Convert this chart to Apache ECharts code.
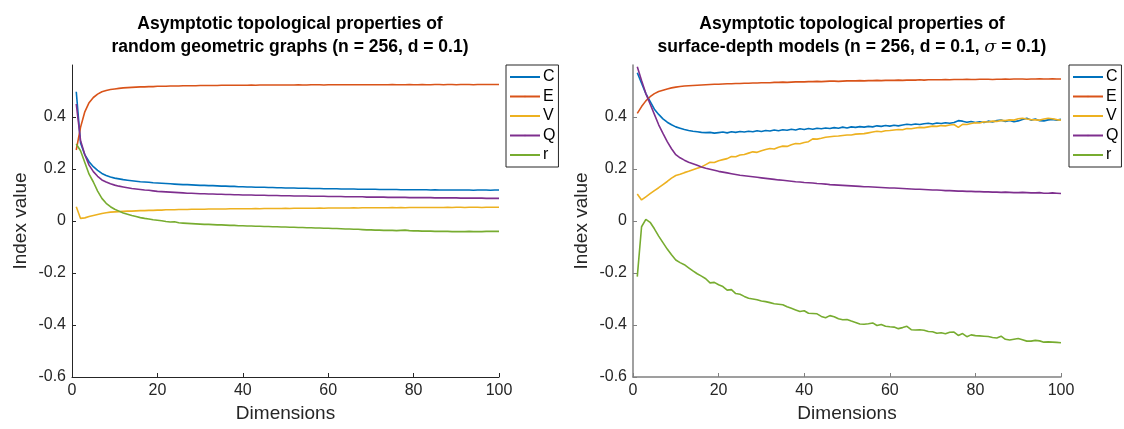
<!DOCTYPE html>
<html>
<head>
<meta charset="utf-8">
<script src="https://cdn.jsdelivr.net/npm/echarts@6/dist/echarts.min.js"></script>
<style>
  html, body { margin: 0; padding: 0; background: #fff; }
  #chart { width: 1124px; height: 429px; }
</style>
</head>
<body>
<div id="chart"></div>
<script>
// dimensions 1..100
const dims = [];
for (let d = 1; d <= 100; d++) dims.push(d);

const names = ['C', 'E', 'V', 'Q', 'r'];
const colors = ['#0072BD', '#D95319', '#EDB120', '#7E2F8E', '#77AC30'];
const yTicks = [-0.6, -0.4, -0.2, 0, 0.2, 0.4];

// random geometric graphs
const rggC = [0.497, 0.30, 0.255, 0.228, 0.209, 0.195, 0.183, 0.175, 0.169, 0.165,
  0.162, 0.159, 0.157, 0.155, 0.153, 0.151, 0.150, 0.149, 0.147, 0.146,
  0.145, 0.144, 0.143, 0.142, 0.141, 0.140, 0.140, 0.139, 0.138, 0.137,
  0.137, 0.136, 0.136, 0.135, 0.134, 0.134, 0.133, 0.133, 0.132, 0.132,
  0.131, 0.131, 0.130, 0.130, 0.130, 0.129, 0.129, 0.128, 0.128, 0.127,
  0.127, 0.127, 0.126, 0.126, 0.126, 0.125, 0.125, 0.125, 0.124, 0.124,
  0.124, 0.124, 0.123, 0.123, 0.123, 0.123, 0.122, 0.122, 0.122, 0.122,
  0.122, 0.121, 0.121, 0.121, 0.121, 0.121, 0.120, 0.120, 0.120, 0.120,
  0.120, 0.120, 0.120, 0.119, 0.120, 0.119, 0.119, 0.119, 0.119, 0.119,
  0.119, 0.119, 0.119, 0.118, 0.119, 0.119, 0.119, 0.118, 0.119, 0.119];
const rggE = [0.273, 0.36, 0.42, 0.455, 0.475, 0.488, 0.497, 0.502, 0.506, 0.508,
  0.510, 0.512, 0.513, 0.514, 0.515, 0.516, 0.516, 0.517, 0.517, 0.518,
  0.518, 0.518, 0.519, 0.519, 0.519, 0.520, 0.520, 0.520, 0.520, 0.521,
  0.521, 0.521, 0.521, 0.521, 0.522, 0.522, 0.522, 0.522, 0.522, 0.522,
  0.522, 0.523, 0.522, 0.523, 0.523, 0.523, 0.523, 0.523, 0.523, 0.523,
  0.523, 0.523, 0.524, 0.523, 0.523, 0.524, 0.524, 0.524, 0.523, 0.524,
  0.524, 0.524, 0.524, 0.524, 0.524, 0.524, 0.524, 0.524, 0.524, 0.524,
  0.524, 0.524, 0.524, 0.524, 0.525, 0.524, 0.524, 0.524, 0.525, 0.524,
  0.524, 0.525, 0.524, 0.524, 0.525, 0.525, 0.524, 0.525, 0.525, 0.524,
  0.525, 0.525, 0.525, 0.524, 0.525, 0.525, 0.525, 0.525, 0.525, 0.525];
const rggV = [0.055, 0.010, 0.012, 0.017, 0.021, 0.025, 0.029, 0.032, 0.034, 0.035,
  0.036, 0.037, 0.038, 0.038, 0.039, 0.040, 0.040, 0.041, 0.041, 0.042,
  0.042, 0.043, 0.043, 0.043, 0.044, 0.044, 0.044, 0.045, 0.045, 0.045,
  0.045, 0.046, 0.046, 0.046, 0.046, 0.046, 0.047, 0.047, 0.047, 0.047,
  0.047, 0.047, 0.048, 0.047, 0.048, 0.048, 0.048, 0.048, 0.048, 0.049,
  0.048, 0.049, 0.049, 0.049, 0.049, 0.049, 0.049, 0.050, 0.049, 0.050,
  0.050, 0.050, 0.050, 0.050, 0.050, 0.051, 0.050, 0.051, 0.051, 0.051,
  0.051, 0.051, 0.051, 0.051, 0.052, 0.051, 0.052, 0.051, 0.052, 0.052,
  0.052, 0.052, 0.052, 0.052, 0.052, 0.052, 0.052, 0.053, 0.052, 0.053,
  0.053, 0.052, 0.053, 0.053, 0.053, 0.052, 0.053, 0.053, 0.053, 0.053];
const rggQ = [0.45, 0.31, 0.255, 0.215, 0.19, 0.172, 0.158, 0.150, 0.143, 0.138,
  0.134, 0.131, 0.128, 0.125, 0.123, 0.121, 0.119, 0.118, 0.116, 0.114,
  0.113, 0.112, 0.111, 0.110, 0.109, 0.108, 0.107, 0.107, 0.106, 0.105,
  0.105, 0.104, 0.104, 0.103, 0.103, 0.102, 0.102, 0.101, 0.101, 0.100,
  0.100, 0.100, 0.099, 0.099, 0.099, 0.098, 0.098, 0.098, 0.097, 0.097,
  0.097, 0.096, 0.096, 0.096, 0.096, 0.095, 0.095, 0.095, 0.095, 0.094,
  0.094, 0.094, 0.094, 0.093, 0.093, 0.093, 0.093, 0.093, 0.092, 0.092,
  0.092, 0.092, 0.092, 0.091, 0.091, 0.091, 0.091, 0.091, 0.090, 0.090,
  0.090, 0.090, 0.090, 0.090, 0.089, 0.089, 0.089, 0.089, 0.089, 0.089,
  0.088, 0.088, 0.088, 0.088, 0.088, 0.088, 0.087, 0.087, 0.087, 0.087];
const rggR = [0.296, 0.27, 0.225, 0.18, 0.15, 0.115, 0.087, 0.068, 0.055, 0.045,
  0.038, 0.031, 0.026, 0.021, 0.017, 0.013, 0.010, 0.008, 0.005, 0.003,
  0.001, -0.002, -0.004, -0.003, -0.007, -0.008, -0.009, -0.010, -0.011, -0.012,
  -0.013, -0.013, -0.014, -0.015, -0.015, -0.016, -0.017, -0.017, -0.018, -0.018,
  -0.019, -0.019, -0.020, -0.020, -0.021, -0.021, -0.022, -0.022, -0.023, -0.023,
  -0.024, -0.024, -0.025, -0.025, -0.026, -0.026, -0.027, -0.027, -0.028, -0.028,
  -0.029, -0.029, -0.030, -0.031, -0.031, -0.032, -0.032, -0.033, -0.034, -0.034,
  -0.035, -0.035, -0.036, -0.036, -0.036, -0.037, -0.036, -0.035, -0.037, -0.038,
  -0.038, -0.039, -0.039, -0.039, -0.040, -0.040, -0.040, -0.040, -0.041, -0.041,
  -0.041, -0.041, -0.040, -0.041, -0.041, -0.041, -0.040, -0.040, -0.040, -0.040];

// surface-depth models
const sdmC = [0.57, 0.53, 0.49, 0.46, 0.43, 0.41, 0.393, 0.380, 0.370, 0.362,
  0.357, 0.352, 0.348, 0.345, 0.343, 0.341, 0.340, 0.341, 0.338, 0.340,
  0.342, 0.339, 0.343, 0.341, 0.344, 0.342, 0.345, 0.343, 0.347, 0.344,
  0.348, 0.346, 0.350, 0.347, 0.351, 0.349, 0.353, 0.350, 0.355, 0.352,
  0.356, 0.353, 0.357, 0.355, 0.358, 0.356, 0.359, 0.357, 0.361, 0.358,
  0.362, 0.360, 0.363, 0.361, 0.364, 0.362, 0.366, 0.364, 0.367, 0.365,
  0.368, 0.366, 0.369, 0.372, 0.370, 0.373, 0.371, 0.374, 0.376, 0.373,
  0.377, 0.375, 0.378, 0.376, 0.379, 0.386, 0.384, 0.380, 0.383, 0.379,
  0.382, 0.379, 0.384, 0.381, 0.386, 0.388, 0.383, 0.387, 0.382, 0.385,
  0.390, 0.395, 0.388, 0.392, 0.386, 0.385, 0.389, 0.391, 0.388, 0.391];
const sdmE = [0.414, 0.44, 0.462, 0.478, 0.490, 0.498, 0.503, 0.508, 0.512, 0.515,
  0.517, 0.519, 0.520, 0.521, 0.522, 0.523, 0.524, 0.525, 0.526, 0.526,
  0.527, 0.528, 0.528, 0.529, 0.529, 0.530, 0.530, 0.531, 0.531, 0.532,
  0.532, 0.532, 0.533, 0.533, 0.534, 0.533, 0.534, 0.535, 0.535, 0.535,
  0.536, 0.536, 0.537, 0.536, 0.537, 0.538, 0.538, 0.537, 0.538, 0.539,
  0.539, 0.539, 0.540, 0.539, 0.540, 0.540, 0.541, 0.540, 0.541, 0.541,
  0.541, 0.542, 0.541, 0.542, 0.542, 0.542, 0.543, 0.542, 0.543, 0.543,
  0.543, 0.543, 0.544, 0.543, 0.544, 0.544, 0.544, 0.545, 0.544, 0.544,
  0.545, 0.545, 0.545, 0.544, 0.545, 0.545, 0.546, 0.545, 0.546, 0.546,
  0.546, 0.545, 0.546, 0.546, 0.547, 0.546, 0.546, 0.547, 0.546, 0.546];
const sdmV = [0.104, 0.081, 0.093, 0.105, 0.117, 0.128, 0.140, 0.152, 0.165, 0.175,
  0.180, 0.186, 0.191, 0.197, 0.203, 0.208, 0.217, 0.226, 0.225, 0.232,
  0.236, 0.240, 0.248, 0.247, 0.254, 0.256, 0.261, 0.266, 0.264, 0.270,
  0.275, 0.279, 0.277, 0.284, 0.288, 0.287, 0.293, 0.298, 0.297, 0.302,
  0.305, 0.316, 0.315, 0.318, 0.322, 0.324, 0.326, 0.327, 0.329, 0.331,
  0.331, 0.334, 0.335, 0.336, 0.339, 0.342, 0.345, 0.343, 0.347, 0.348,
  0.350, 0.352, 0.351, 0.356, 0.355, 0.358, 0.360, 0.359, 0.362, 0.365,
  0.364, 0.367, 0.366, 0.369, 0.371, 0.360, 0.372, 0.371, 0.375, 0.378,
  0.377, 0.382, 0.381, 0.384, 0.383, 0.387, 0.386, 0.389, 0.388, 0.393,
  0.395, 0.392, 0.390, 0.389, 0.388, 0.392, 0.395, 0.393, 0.390, 0.388];
const sdmQ = [0.593, 0.54, 0.49, 0.45, 0.41, 0.37, 0.337, 0.305, 0.278, 0.255,
  0.243, 0.234, 0.226, 0.220, 0.214, 0.208, 0.203, 0.199, 0.195, 0.191,
  0.188, 0.185, 0.182, 0.179, 0.176, 0.174, 0.172, 0.170, 0.168, 0.166,
  0.164, 0.162, 0.160, 0.158, 0.157, 0.155, 0.153, 0.151, 0.150, 0.148,
  0.147, 0.146, 0.144, 0.143, 0.142, 0.140, 0.139, 0.138, 0.137, 0.136,
  0.135, 0.134, 0.133, 0.132, 0.132, 0.131, 0.130, 0.129, 0.128, 0.127,
  0.127, 0.126, 0.125, 0.124, 0.123, 0.122, 0.122, 0.121, 0.120, 0.119,
  0.119, 0.118, 0.117, 0.117, 0.116, 0.115, 0.115, 0.114, 0.114, 0.113,
  0.113, 0.112, 0.112, 0.111, 0.111, 0.110, 0.111, 0.110, 0.109, 0.109,
  0.110, 0.109, 0.108, 0.108, 0.109, 0.107, 0.107, 0.108, 0.107, 0.106];
const sdmR = [-0.214, -0.022, 0.006, -0.005, -0.030, -0.058, -0.083, -0.108, -0.130, -0.150,
  -0.160, -0.168, -0.180, -0.192, -0.203, -0.212, -0.222, -0.238, -0.236, -0.245,
  -0.252, -0.266, -0.264, -0.279, -0.282, -0.290, -0.297, -0.300, -0.303, -0.308,
  -0.310, -0.314, -0.318, -0.320, -0.322, -0.330, -0.336, -0.342, -0.348, -0.345,
  -0.355, -0.356, -0.357, -0.367, -0.372, -0.364, -0.368, -0.376, -0.380, -0.379,
  -0.385, -0.390, -0.396, -0.397, -0.395, -0.392, -0.402, -0.398, -0.405, -0.407,
  -0.408, -0.414, -0.410, -0.405, -0.418, -0.419, -0.418, -0.420, -0.425, -0.426,
  -0.432, -0.430, -0.434, -0.428, -0.427, -0.440, -0.433, -0.445, -0.438, -0.441,
  -0.442, -0.443, -0.444, -0.448, -0.450, -0.443, -0.455, -0.458, -0.455, -0.452,
  -0.457, -0.462, -0.462, -0.459, -0.461, -0.466, -0.465, -0.466, -0.467, -0.468];

const panels = [
  [rggC, rggE, rggV, rggQ, rggR],
  [sdmC, sdmE, sdmV, sdmQ, sdmR]
];

const font = 'Liberation Sans, Arial, Helvetica, sans-serif';
const textColor = '#262626';

function xAxisFor(idx, lineColor, lineWidth) {
  return {
    type: 'value', gridIndex: idx, min: 0, max: 100, interval: 20,
    name: 'Dimensions', nameLocation: 'middle', nameGap: 26,
    nameTextStyle: { color: textColor, fontSize: 19, fontFamily: font },
    axisLine: { show: true, onZero: false, lineStyle: { color: lineColor, width: lineWidth } },
    axisTick: { show: true, inside: true, length: 4, lineStyle: { color: lineColor } },
    axisLabel: { color: textColor, fontSize: 16, fontFamily: font, margin: 6 },
    splitLine: { show: false }
  };
}

function yAxisFor(idx, lineColor, lineWidth) {
  return {
    type: 'value', gridIndex: idx, min: -0.6, max: 0.6, interval: 0.2,
    name: 'Index value', nameLocation: 'middle', nameGap: 42,
    nameTextStyle: { color: textColor, fontSize: 19, fontFamily: font },
    axisLine: { show: true, onZero: false, lineStyle: { color: lineColor, width: lineWidth } },
    axisTick: { show: true, inside: true, length: 4, lineStyle: { color: lineColor } },
    axisLabel: {
      color: textColor, fontSize: 16, fontFamily: font, margin: 6, showMaxLabel: false,
      formatter: v => {
        const r = Math.round(v * 10) / 10;
        return yTicks.indexOf(r) >= 0 ? String(r) : '';
      }
    },
    splitLine: { show: false }
  };
}

function legendFor(left) {
  return {
    data: names, orient: 'vertical', left: left, top: 65,
    itemWidth: 30, itemHeight: 2, itemGap: 3.5,
    padding: [4, 3, 4, 3],
    borderColor: '#262626', borderWidth: 1,
    textStyle: { color: '#000', fontSize: 16, lineHeight: 16, fontFamily: font, padding: [0, 0, 0, -2] },
    selectedMode: false
  };
}

const series = [];
panels.forEach((panel, p) => {
  panel.forEach((vals, k) => {
    series.push({
      name: names[k], type: 'line', xAxisIndex: p, yAxisIndex: p,
      symbol: 'none', silent: true, animation: false,
      lineStyle: { color: colors[k], width: 1.6 },
      itemStyle: { color: colors[k] },
      data: dims.map((d, i) => [d, vals[i]])
    });
  });
});

const chart = echarts.init(document.getElementById('chart'), null, { renderer: 'canvas' });
chart.setOption({
  backgroundColor: '#fff',
  animation: false,
  color: colors,
  title: [
    {
      text: 'Asymptotic topological properties of\nrandom geometric graphs (n = 256, d = 0.1)',
      left: 285, top: 8, textAlign: 'center',
      textStyle: { color: '#000', fontSize: 17.5, fontWeight: 'bold', lineHeight: 23, fontFamily: font }
    },
    {
      text: 'Asymptotic topological properties of\nsurface-depth models (n = 256, d = 0.1, {s|σ} = 0.1)',
      left: 847, top: 8, textAlign: 'center',
      textStyle: {
        color: '#000', fontSize: 17.5, fontWeight: 'bold', lineHeight: 23, fontFamily: font,
        rich: { s: { fontStyle: 'italic', fontWeight: 'normal', fontSize: 17.5, fontFamily: 'DejaVu Serif, serif', color: '#000' } }
      }
    }
  ],
  legend: [legendFor(506), legendFor(1069)],
  grid: [
    { left: 72, right: 625, top: 65, bottom: 52, containLabel: false },
    { left: 633, right: 63, top: 65, bottom: 52, containLabel: false }
  ],
  xAxis: [xAxisFor(0, '#262626', 1), xAxisFor(1, '#808080', 1.5)],
  yAxis: [yAxisFor(0, '#262626', 1), yAxisFor(1, '#808080', 1.5)],
  series: series
});
</script>
</body>
</html>
